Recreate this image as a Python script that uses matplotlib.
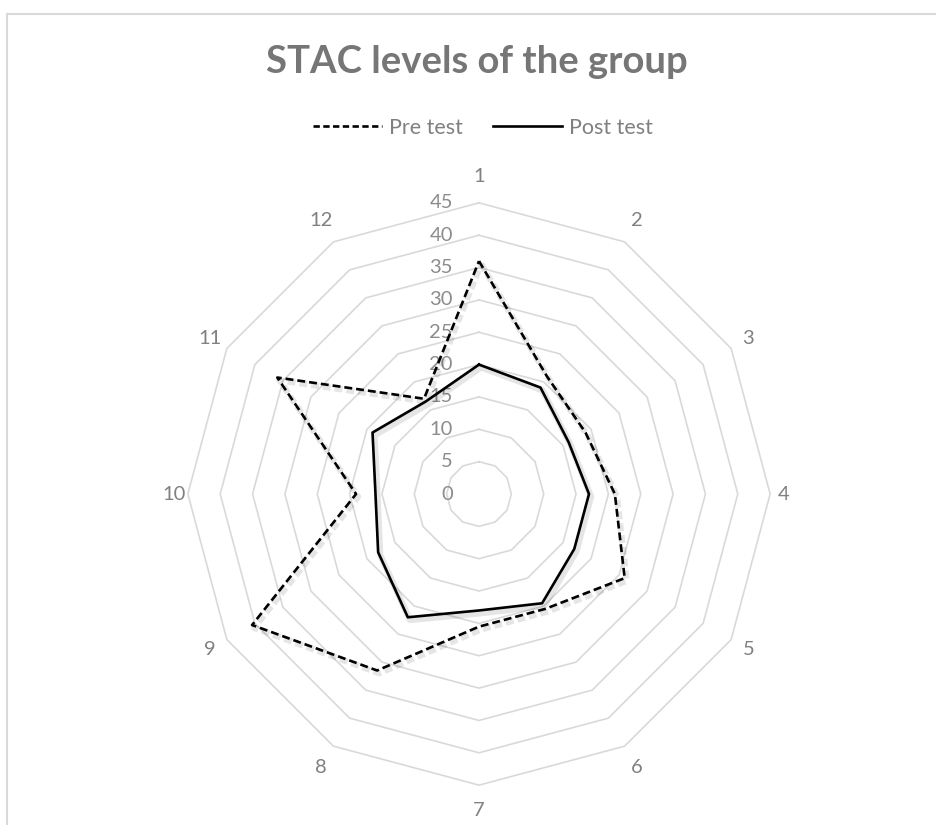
import numpy as np
import matplotlib.pyplot as plt
import matplotlib.patheffects as pe
from matplotlib.lines import Line2D

# data
categories = [str(i) for i in range(1, 13)]
pre_test = [36, 21, 19, 21, 26, 20.5, 20.5, 31.5, 40.5, 19, 36, 17]
post_test = [20, 19, 16, 17, 17, 19.5, 18, 22, 18, 16, 19, 16.5]
rings = list(range(0, 50, 5))

plt.rcParams['font.family'] = ['Lato', 'DejaVu Sans']

W, H = 937, 825
fig = plt.figure(figsize=(W / 100, H / 100), dpi=100)
ax = fig.add_axes([0, 0, 1, 1])
ax.axis('off')

scale = 6.47          # pixels per unit
cx, cy = 479, 494     # web centre, pixels from top-left
ax.set_xlim(-cx / scale, (W - cx) / scale)
ax.set_ylim(-(H - cy) / scale, cy / scale)

theta = np.arange(len(categories)) * 2 * np.pi / len(categories)


def to_xy(vals):
    r = np.asarray(vals, float)
    x, y = r * np.sin(theta), r * np.cos(theta)
    return np.append(x, x[0]), np.append(y, y[0])


# polygon grid
for r in rings[1:]:
    x, y = to_xy([r] * len(categories))
    ax.plot(x, y, color='#d9d9d9', lw=1.2, zorder=1)

# radial value labels
for r in rings:
    ax.text(-26 / scale, r, str(r), ha='right', va='center',
            fontsize=14.5, color='#8c8c8c', zorder=2)

# category labels
for t, lab in zip(theta, categories):
    rp = (305 + 12 * abs(np.cos(t))) / scale
    ax.text(rp * np.sin(t), rp * np.cos(t), lab, ha='center', va='center',
            fontsize=14.5, color='#808080')

shadow = [pe.SimpleLineShadow(offset=(1.5, -2), shadow_color='k', alpha=0.1, linewidth=4.5),
          pe.Normal()]

x, y = to_xy(pre_test)
ax.plot(x, y, color='black', lw=1.9, dashes=(3, 1.5), path_effects=shadow,
        zorder=4, label='Pre test')
x, y = to_xy(post_test)
ax.plot(x, y, color='black', lw=1.9, path_effects=shadow, zorder=4,
        label='Post test')

fig.text(477 / W, 1 - 62 / H, 'STAC levels of the group', ha='center', va='center',
         fontsize=27.5, fontweight='bold', color='#767676')

handles = [Line2D([], [], color='black', lw=1.9, dashes=(2.4, 1.3)),
           Line2D([], [], color='black', lw=1.9)]
fig.legend(handles, ['Pre test', 'Post test'], loc='center',
           bbox_to_anchor=(483 / W, 1 - 128 / H), ncol=2, frameon=False,
           fontsize=15.5, handlelength=3.2, columnspacing=1.4, handletextpad=0.35,
           labelcolor='#808080')

# chart frame (top and left edges visible)
fig.add_artist(Line2D([7 / W, 1], [1 - 14 / H] * 2, transform=fig.transFigure,
                      color='#d9d9d9', lw=1.5))
fig.add_artist(Line2D([7 / W] * 2, [0, 1 - 14 / H], transform=fig.transFigure,
                      color='#d9d9d9', lw=1.5))

fig.savefig('out.png', dpi=100)
